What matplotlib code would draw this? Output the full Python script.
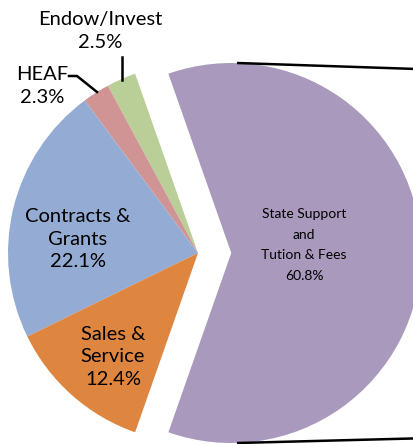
import matplotlib
matplotlib.use("Agg")
import matplotlib.pyplot as plt
import numpy as np

# revenue sources, counter-clockwise starting from the exploded slice
sources = ["State Support\nand\nTution & Fees", "Endow/Invest", "HEAF",
           "Contracts &\nGrants", "Sales &\nService"]
shares = [60.8, 2.5, 2.3, 22.1, 12.4]
colors = ["#A99ABD", "#BACF98", "#D09494", "#94ABD3", "#DE853F"]

W, H, DPI = 413, 444, 100
R_PX = 190.0          # pie radius in pixels
CX, CY = 198.0, 253.0  # pie centre in pixels (from top-left)
EXPLODE = 0.175

plt.rcParams["font.family"] = ["Lato", "DejaVu Sans"]

fig = plt.figure(figsize=(W / DPI, H / DPI), dpi=DPI)
ax = fig.add_axes([0, 0, 1, 1])

# half of the first slice above the horizontal, so it points right
start = -shares[0] / sum(shares) * 360 / 2
wedges, _ = ax.pie(shares, colors=colors, startangle=start, counterclock=True,
                   explode=[EXPLODE, 0, 0, 0, 0], radius=1.0,
                   wedgeprops=dict(linewidth=0))

ax.set_aspect("auto")
ax.set_xlim(-CX / R_PX, (W - CX) / R_PX)
ax.set_ylim(-(H - CY) / R_PX, CY / R_PX)
ax.axis("off")

# connector lines towards the secondary pie (off to the right)
pie2_x, pie2_r = 2.6, 0.92
ax.plot([EXPLODE + 0.03, pie2_x], [1.0, pie2_r], color="black", lw=1.8,
        solid_capstyle="butt")
ax.plot([EXPLODE + 0.03, pie2_x], [-1.0, -pie2_r * 1.02], color="black", lw=1.8,
        solid_capstyle="butt")

def px(x, y):
    return (x - CX) / R_PX, (CY - y) / R_PX

fs = 14.5
# labels inside slices
ax.text(*px(304, 245), f"{sources[0]}\n{shares[0]}%", ha="center", va="center",
        fontsize=10, linespacing=1.85)
ax.text(*px(78, 239), f"{sources[3]}\n{shares[3]}%", ha="center", va="center",
        fontsize=fs, linespacing=1.4)
ax.text(*px(113, 357), f"{sources[4]}\n{shares[4]}%", ha="center", va="center",
        fontsize=fs, linespacing=1.4)
# outside labels with leaders
ax.text(*px(100, 31), f"{sources[1]}\n{shares[1]}%", ha="center", va="center",
        fontsize=fs, linespacing=1.4)
ax.text(*px(42, 86), f"{sources[2]}\n{shares[2]}%", ha="center", va="center",
        fontsize=fs, linespacing=1.4)

ax.plot(*zip(px(122, 57), px(122, 80)), color="black", lw=1.8)
ax.plot(*zip(px(69, 76), px(77, 76), px(97, 92)), color="black", lw=1.8)

fig.savefig("out.png", dpi=DPI)
